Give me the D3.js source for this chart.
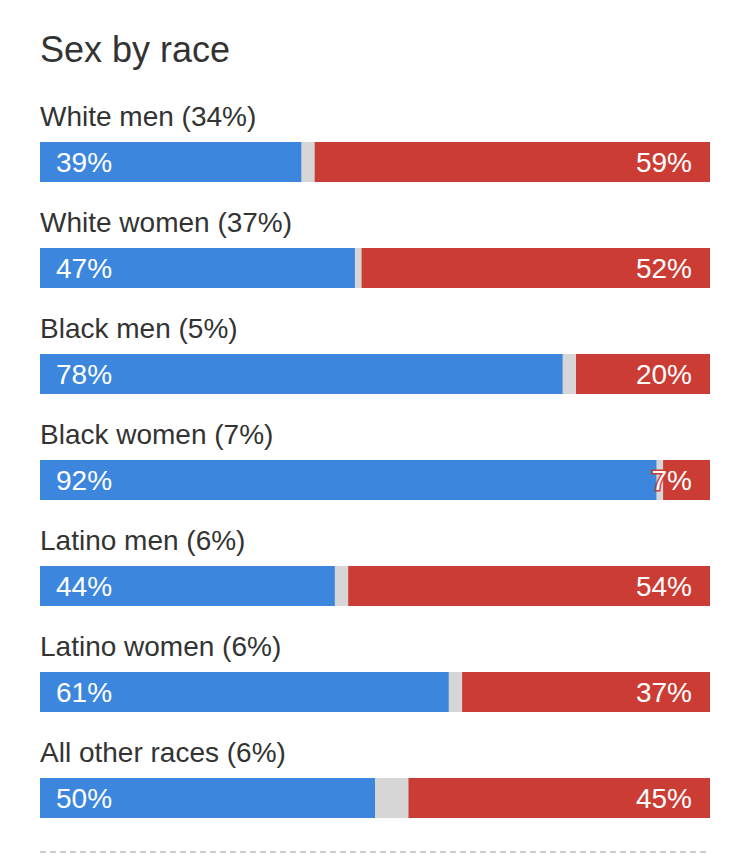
<!DOCTYPE html>
<html>
<head>
<meta charset="utf-8">
<script src="https://cdn.jsdelivr.net/npm/d3@7"></script>
<style>
  body { margin: 0; background: #fff; }
  text { font-family: "Liberation Sans", Arial, Helvetica, sans-serif; }
</style>
</head>
<body>
<svg width="750" height="866"></svg>
<script>
const categories = [
    'White men (34%)',
    'White women (37%)',
    'Black men (5%)',
    'Black women (7%)',
    'Latino men (6%)',
    'Latino women (6%)',
    'All other races (6%)'
];
const demShare = [39, 47, 78, 92, 44, 61, 50];
const repShare = [59, 52, 20, 7, 54, 37, 45];
const titulo = 'Sex by race';

const svg = d3.select('svg');
const largura = +svg.attr('width');

const azul = '#3c86de';
const vermelho = '#cb3c34';
const cinza = '#d6d6d6';

const marg = { esquerda: 40, direita: 40 };

const data = categories.map((c, i) => ({ cat: c, dem: demShare[i], rep: repShare[i] }));

const xEscala = d3.scaleLinear()
    .domain([0, 100])
    .range([marg.esquerda, largura - marg.direita]);

const yEscala = d3.scaleBand()
    .domain(categories)
    .range([100, 100 + 106 * categories.length]);

svg.append('text')
    .attr('x', marg.esquerda)
    .attr('y', 62)
    .attr('font-size', 36)
    .attr('fill', '#333')
    .text(titulo);

const linha = svg.selectAll('g.linha').data(data)
    .enter().append('g')
        .attr('class', 'linha')
        .attr('transform', d => `translate(0,${yEscala(d.cat)})`);

linha.append('text')
    .attr('x', marg.esquerda)
    .attr('y', 26)
    .attr('font-size', 28)
    .attr('fill', '#333')
    .text(d => d.cat);

// fundo cinza = parte que sobra entre os dois
linha.append('rect')
    .attr('x', xEscala(0))
    .attr('y', 42)
    .attr('width', xEscala(100) - xEscala(0))
    .attr('height', 40)
    .attr('fill', cinza);

linha.append('rect')
    .attr('x', xEscala(0))
    .attr('y', 42)
    .attr('width', d => xEscala(d.dem) - xEscala(0))
    .attr('height', 40)
    .attr('fill', azul);

linha.append('rect')
    .attr('x', d => xEscala(100 - d.rep))
    .attr('y', 42)
    .attr('width', d => xEscala(100) - xEscala(100 - d.rep))
    .attr('height', 40)
    .attr('fill', vermelho);

linha.append('text')
    .attr('x', xEscala(0) + 16)
    .attr('y', 72)
    .attr('font-size', 28)
    .attr('fill', '#fff')
    .attr('stroke', azul)
    .attr('stroke-width', 3)
    .attr('paint-order', 'stroke')
    .text(d => d.dem + '%');

linha.append('text')
    .attr('x', xEscala(100) - 18)
    .attr('y', 72)
    .attr('text-anchor', 'end')
    .attr('font-size', 28)
    .attr('fill', '#fff')
    .attr('stroke', vermelho)
    .attr('stroke-width', 3)
    .attr('paint-order', 'stroke')
    .text(d => d.rep + '%');

svg.append('line')
    .attr('x1', xEscala(0))
    .attr('x2', xEscala(100))
    .attr('y1', 852)
    .attr('y2', 852)
    .attr('stroke', '#ccc')
    .attr('stroke-width', 2)
    .attr('stroke-dasharray', '6,4');
</script>
</body>
</html>
